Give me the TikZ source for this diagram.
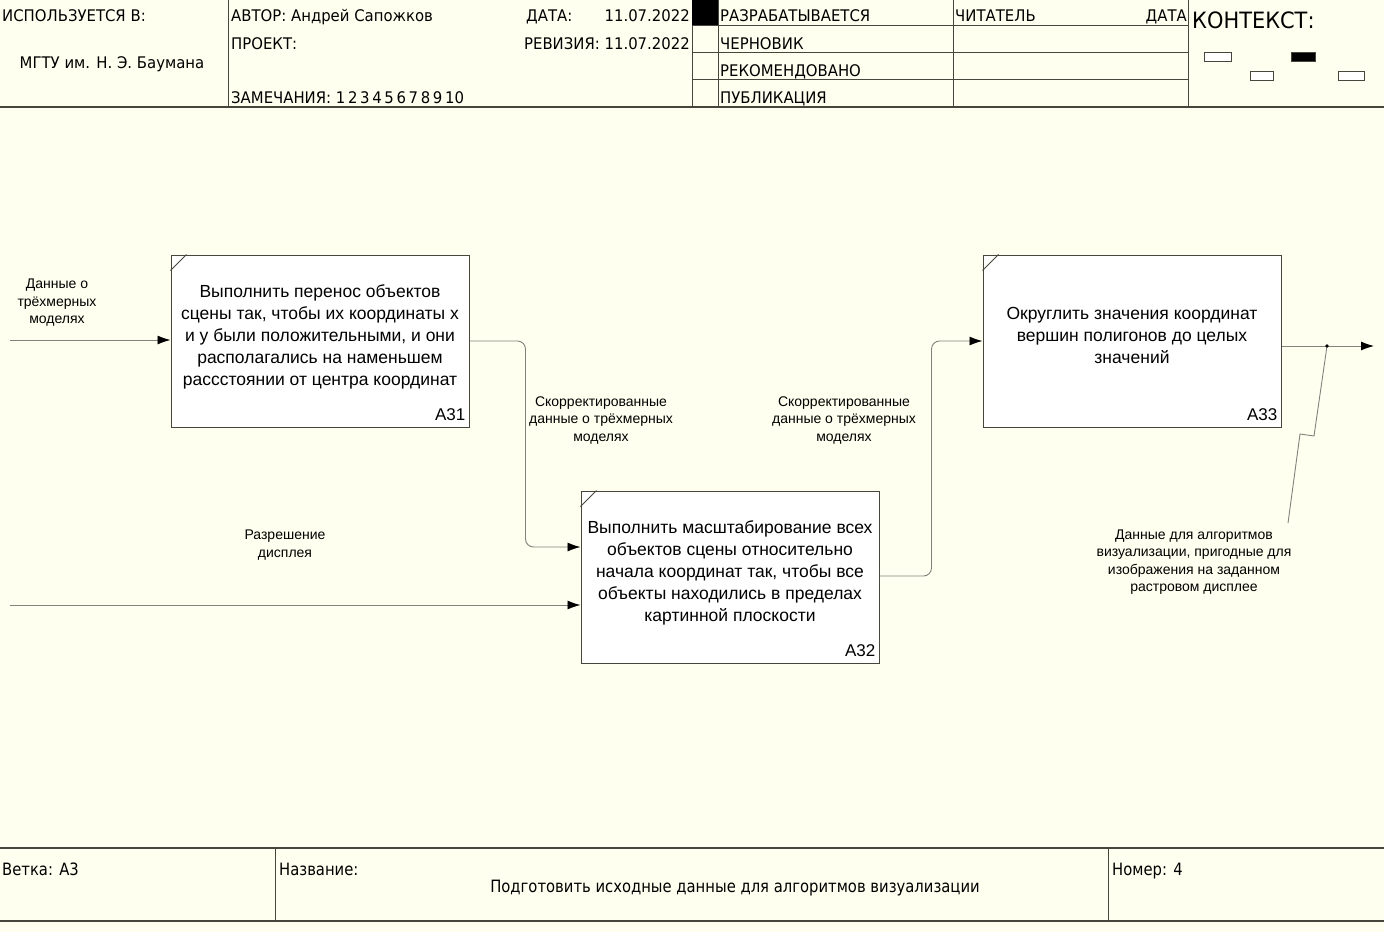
\documentclass[tikz,border=0pt]{standalone}
\usepackage{fontspec}
\setmainfont{Liberation Sans}
\newfontfamily\hdr[FakeStretch=0.93]{DejaVu Sans}
\newfontfamily\btm[FakeStretch=0.87]{DejaVu Sans}
\usetikzlibrary{arrows.meta,calc}
\definecolor{bg}{RGB}{255,255,240}
\definecolor{frame}{RGB}{70,70,60}
\definecolor{conn}{RGB}{130,130,125}
\tikzset{
  hline/.style={draw=frame, line width=1pt},
  htext/.style={inner sep=0pt, font=\hdr\fontsize{16}{19}\selectfont, text=black},
  btext/.style={inner sep=0pt, font=\btm\fontsize{17}{20}\selectfont, text=black},
  fbox/.style={draw=frame, fill=white, line width=1pt, minimum width=298pt, minimum height=172pt, inner sep=0pt},
  ftext/.style={align=center, inner sep=0pt, font=\fontsize{17.5}{22}\selectfont},
  boxid/.style={inner sep=0pt, font=\fontsize{17}{20}\selectfont, anchor=base east},
  lbl/.style={align=center, inner sep=0pt, font=\fontsize{14}{17.5}\selectfont},
  conline/.style={draw=conn, line width=0.9pt},
  arr/.style={conline, -{Latex[length=13pt,width=9pt,fill=black,color=black]}},
  ctx/.style={draw=frame, line width=0.8pt, fill=white}
}
\begin{document}
\begin{tikzpicture}[x=1pt,y=-1pt]
\useasboundingbox[fill=bg] (0,0) rectangle (1384,932);
% ---------- header ----------
\draw[hline] (228,0) -- (228,107);
\draw[hline] (692,0) -- (692,107);
\draw[hline] (718,0) -- (718,107);
\draw[hline] (953,0) -- (953,107);
\draw[hline] (1188,0) -- (1188,107);
\draw[hline] (692,25) -- (1188,25);
\draw[hline] (692,52) -- (1188,52);
\draw[hline] (692,79) -- (1188,79);
\fill[black] (692,0) rectangle (718,25);
\draw[draw=frame, line width=2pt] (0,107) -- (1384,107);
\node[htext, anchor=base west] (used) at (2,21) {ИСПОЛЬЗУЕТСЯ В:};
\node[htext, anchor=base] (org) at (112,68) {МГТУ им. Н. Э. Баумана};
\node[htext, anchor=base west] (author) at (231,21) {АВТОР: Андрей Сапожков};
\node[htext, anchor=base west] (proj) at (231,49) {ПРОЕКТ:};
\node[htext, anchor=base west] (notes) at (231,103) {ЗАМЕЧАНИЯ: 1\,2\,3\,4\,5\,6\,7\,8\,9\,10};
\node[htext, anchor=base west] (date) at (526,21) {ДАТА:};
\node[htext, anchor=base east] (dateval) at (690,21) {11.07.2022};
\node[htext, anchor=base east] (rev) at (690,49) {РЕВИЗИЯ: 11.07.2022};
\node[htext, anchor=base west] (st1) at (720,21) {РАЗРАБАТЫВАЕТСЯ};
\node[htext, anchor=base west] (st2) at (720,49) {ЧЕРНОВИК};
\node[htext, anchor=base west] (st3) at (720,76) {РЕКОМЕНДОВАНО};
\node[htext, anchor=base west] (st4) at (720,103) {ПУБЛИКАЦИЯ};
\node[htext, anchor=base west] (reader) at (955,21) {ЧИТАТЕЛЬ};
\node[htext, anchor=base east] (rdate) at (1187,21) {ДАТА};
\node[inner sep=0pt, anchor=base west, font=\hdr\fontsize{22.5}{26}\selectfont] (context) at (1192,28) {КОНТЕКСТ:};
\draw[ctx] (1204,52) rectangle (1231,61);
\draw[ctx, fill=black] (1291,52) rectangle (1315,61);
\draw[ctx] (1250,71) rectangle (1273,80);
\draw[ctx] (1338,71) rectangle (1364,80);
% ---------- footer ----------
\draw[draw=frame, line width=1.5pt] (0,848) -- (1384,848);
\draw[draw=frame, line width=1.5pt] (0,921) -- (1384,921);
\draw[hline] (275,848) -- (275,921);
\draw[hline] (1108,848) -- (1108,921);
\node[btext, anchor=base west] (branch) at (2,875) {Ветка: А3};
\node[btext, anchor=base west] (title) at (279,875) {Название:};
\node[btext, anchor=base] (titletext) at (735,892) {Подготовить исходные данные для алгоритмов визуализации};
\node[btext, anchor=base west] (num) at (1112,875) {Номер: 4};
% ---------- activity boxes ----------
\node[fbox] (a31) at (320,341) {};
\node[fbox] (a32) at (730,577) {};
\node[fbox] (a33) at (1132,341) {};
\node[ftext] (t31) at ([yshift=4pt]a31.center) {Выполнить перенос объектов\\сцены так, чтобы их координаты x\\и y были положительными, и они\\располагались на наменьшем\\рассстоянии от центра координат};
\node[ftext] (t32) at ([yshift=4pt]a32.center) {Выполнить масштабирование всех\\объектов сцены относительно\\начала координат так, чтобы все\\объекты находились в пределах\\картинной плоскости};
\node[ftext] (t33) at ([yshift=6pt]a33.center) {Округлить значения координат\\вершин полигонов до целых\\значений};
\foreach \b in {a31,a32,a33}{
  \draw[draw=frame, line width=0.8pt] ([yshift=-16pt]\b.north west) -- ([xshift=16pt]\b.north west);
}
\node[boxid] (id31) at ($(a31.south east)+(-4,-7)$) {A31};
\node[boxid] (id32) at ($(a32.south east)+(-4,-7)$) {A32};
\node[boxid] (id33) at ($(a33.south east)+(-4,-7)$) {A33};
% ---------- connectors ----------
\coordinate (in1) at (10,340);
\coordinate (in2) at (10,605);
\coordinate (out) at (1374,346);
\draw[arr] (in1) -- (in1 -| a31.west);
\draw[arr] (in2) -- (in2 -| a32.west);
\draw[arr, rounded corners=8pt] (a31.east) -- ++(56,0) |- ([yshift=30pt]a32.west);
\draw[arr, rounded corners=8pt] ([yshift=1pt]a32.east) -- ++(52,0) |- (a33.west);
\draw[arr] (out -| a33.east) -- (out);
\coordinate (dot) at (1327,346);
\coordinate (sq1) at (1314,436);
\coordinate (sq2) at (1300,434);
\coordinate (sqend) at (1288,523);
\draw[conline] (dot) -- (sq1) -- (sq2) -- (sqend);
\fill[black] (dot) circle (1.8pt);
% ---------- labels ----------
\node[lbl] (l1) at (57,303) {Данные о\\трёхмерных\\моделях};
\node[lbl] (l2) at (601,420) {Скорректированные\\данные о трёхмерных\\моделях};
\node[lbl] (l3) at (844,420) {Скорректированные\\данные о трёхмерных\\моделях};
\node[lbl] (l4) at (285,545) {Разрешение\\дисплея};
\node[lbl] (l5) at (1194,562) {Данные для алгоритмов\\визуализации, пригодные для\\изображения на заданном\\растровом дисплее};
\end{tikzpicture}
\end{document}
